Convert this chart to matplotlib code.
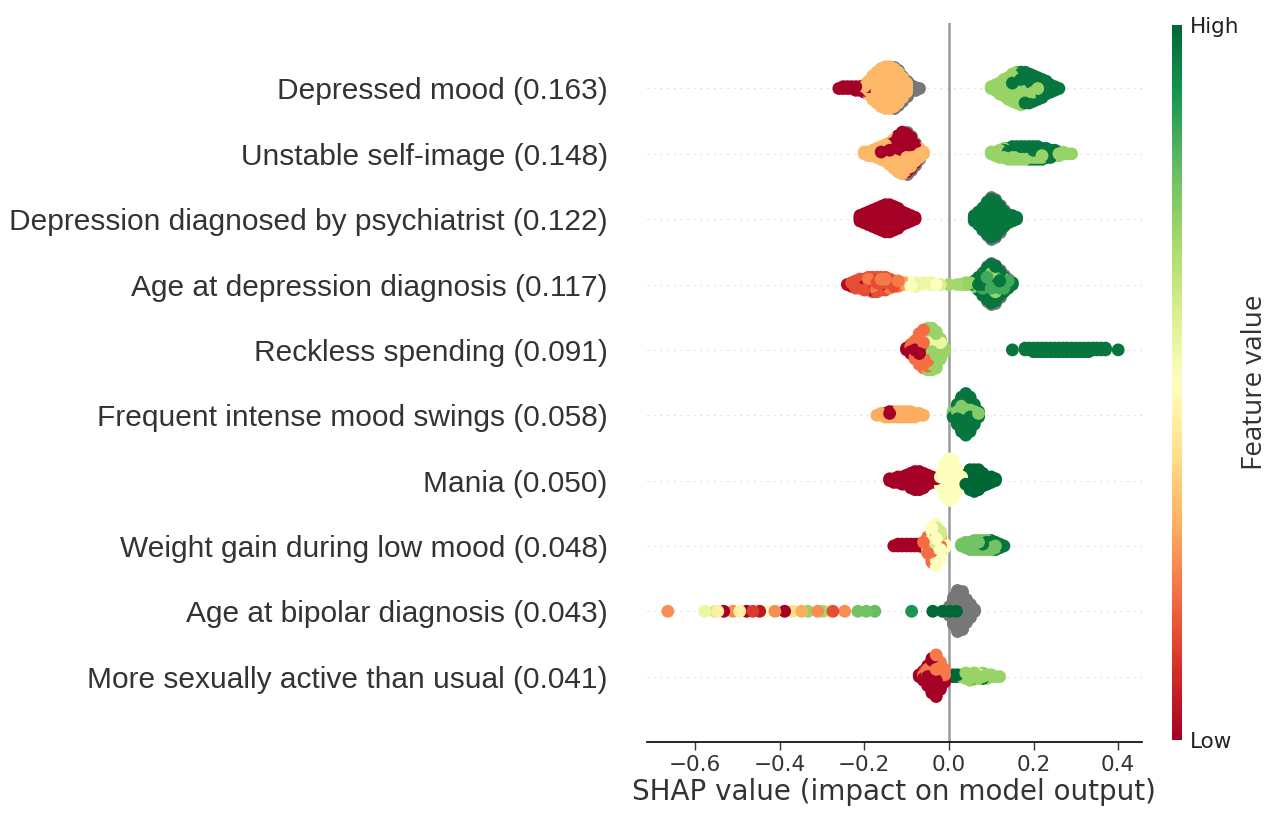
import numpy as np
import matplotlib
matplotlib.use("Agg")
import matplotlib.pyplot as plt
from matplotlib import cm
from matplotlib.colors import Normalize

# feature names, top to bottom
features = [
    "Depressed mood (0.163)",
    "Unstable self-image (0.148)",
    "Depression diagnosed by psychiatrist (0.122)",
    "Age at depression diagnosis (0.117)",
    "Reckless spending (0.091)",
    "Frequent intense mood swings (0.058)",
    "Mania (0.050)",
    "Weight gain during low mood (0.048)",
    "Age at bipolar diagnosis (0.043)",
    "More sexually active than usual (0.041)",
]

# (shap value, feature value 0..1 or nan = missing, number of samples)
N = np.nan
depressed_mood = [
    (-0.26, 0.0, 1), (-0.25, 0.0, 2), (-0.24, 0.0, 2), (-0.23, 0.0, 2), (-0.22, 0.0, 3),
    (-0.21, 0.0, 3), (-0.20, 0.0, 3), (-0.20, 0.32, 2),
    (-0.19, 0.32, 6), (-0.19, 0.0, 2), (-0.18, 0.32, 12), (-0.18, 0.0, 2),
    (-0.17, 0.32, 18), (-0.16, 0.32, 22), (-0.15, 0.32, 24), (-0.14, 0.32, 24),
    (-0.13, 0.32, 22), (-0.13, N, 2), (-0.12, 0.32, 18), (-0.12, N, 2),
    (-0.11, 0.32, 12), (-0.11, N, 3), (-0.10, 0.32, 6), (-0.10, N, 3),
    (-0.09, N, 4), (-0.08, N, 3), (-0.07, N, 1),
    (0.10, 0.72, 2), (0.11, 0.72, 4), (0.12, 0.72, 7), (0.13, 0.72, 9), (0.13, 0.97, 1),
    (0.14, 0.72, 11), (0.14, 0.97, 2), (0.15, 0.72, 12), (0.15, 0.97, 4),
    (0.16, 0.72, 12), (0.16, 0.97, 6), (0.17, 0.72, 10), (0.17, 0.97, 9),
    (0.18, 0.72, 8), (0.18, 0.97, 10), (0.19, 0.72, 6), (0.19, 0.97, 11),
    (0.20, 0.72, 4), (0.20, 0.97, 11), (0.21, 0.72, 3), (0.21, 0.97, 10),
    (0.22, 0.72, 2), (0.22, 0.97, 9), (0.23, 0.72, 1), (0.23, 0.97, 7),
    (0.24, 0.97, 5), (0.25, 0.97, 3), (0.26, 0.97, 1),
]
unstable_self_image = [
    (-0.20, 0.32, 2), (-0.19, 0.32, 3), (-0.18, 0.32, 4), (-0.17, 0.32, 5), (-0.17, 0.0, 1),
    (-0.16, 0.32, 6), (-0.16, 0.0, 2), (-0.15, 0.32, 7), (-0.15, 0.0, 3),
    (-0.14, 0.32, 8), (-0.14, 0.0, 5), (-0.13, 0.32, 10), (-0.13, 0.0, 7),
    (-0.12, 0.32, 11), (-0.12, 0.0, 10), (-0.11, 0.32, 12), (-0.11, 0.0, 12),
    (-0.10, 0.32, 10), (-0.10, 0.0, 12), (-0.10, N, 2), (-0.09, 0.32, 8), (-0.09, 0.0, 10),
    (-0.09, N, 2), (-0.08, 0.32, 5), (-0.08, 0.0, 6), (-0.08, N, 2),
    (-0.07, 0.32, 4), (-0.07, 0.0, 2), (-0.07, N, 1), (-0.06, 0.32, 2),
    (0.10, 0.72, 2), (0.11, 0.72, 3), (0.12, 0.72, 4), (0.12, 0.97, 1),
    (0.13, 0.72, 4), (0.13, 0.97, 2), (0.14, 0.72, 4), (0.14, 0.97, 3),
    (0.15, 0.72, 4), (0.15, 0.97, 4), (0.16, 0.72, 4), (0.16, 0.97, 4),
    (0.17, 0.72, 4), (0.17, 0.97, 4), (0.18, 0.72, 4), (0.18, 0.97, 4),
    (0.19, 0.72, 3), (0.19, 0.97, 5), (0.20, 0.72, 3), (0.20, 0.97, 5),
    (0.21, 0.72, 3), (0.21, 0.97, 5), (0.22, 0.72, 3), (0.22, 0.97, 4),
    (0.23, 0.72, 2), (0.23, 0.97, 4), (0.24, 0.72, 2), (0.24, 0.97, 3),
    (0.25, 0.72, 2), (0.25, 0.97, 2), (0.26, 0.72, 2), (0.26, 0.97, 1),
    (0.27, 0.72, 2), (0.28, 0.72, 1), (0.29, 0.72, 1),
]
diagnosed_by_psychiatrist = [
    (-0.21, 0.0, 4), (-0.20, 0.0, 6), (-0.19, 0.0, 8), (-0.18, 0.0, 10), (-0.17, 0.0, 12),
    (-0.16, 0.0, 14), (-0.15, 0.0, 16), (-0.14, 0.0, 16), (-0.13, 0.0, 14), (-0.12, 0.0, 12),
    (-0.11, 0.0, 8), (-0.10, 0.0, 6), (-0.09, 0.0, 4), (-0.08, 0.0, 2),
    (0.06, 0.97, 4), (0.07, 0.97, 8), (0.08, 0.97, 13), (0.08, N, 1), (0.09, 0.97, 18),
    (0.09, N, 2), (0.10, 0.97, 22), (0.10, N, 2), (0.11, 0.97, 20), (0.11, N, 2),
    (0.12, 0.97, 14), (0.12, N, 2), (0.13, 0.97, 9), (0.13, N, 1), (0.14, 0.97, 5),
    (0.14, N, 1), (0.15, 0.97, 4), (0.16, 0.97, 2),
]
age_depression_dx = [
    (-0.24, 0.03, 1), (-0.23, 0.03, 2), (-0.23, 0.15, 1), (-0.22, 0.03, 2), (-0.22, 0.15, 3),
    (-0.21, 0.03, 2), (-0.21, 0.15, 4), (-0.20, 0.03, 2), (-0.20, 0.15, 5),
    (-0.19, 0.03, 2), (-0.19, 0.15, 4), (-0.19, 0.22, 2), (-0.18, 0.03, 3), (-0.18, 0.15, 4),
    (-0.18, 0.22, 2), (-0.17, 0.03, 3), (-0.17, 0.15, 4), (-0.17, 0.22, 2),
    (-0.16, 0.03, 2), (-0.16, 0.15, 4), (-0.16, 0.22, 2), (-0.15, 0.03, 2), (-0.15, 0.15, 4),
    (-0.15, 0.22, 2), (-0.14, 0.03, 1), (-0.14, 0.15, 3), (-0.14, 0.22, 2),
    (-0.13, 0.15, 3), (-0.13, 0.28, 1), (-0.12, 0.22, 3), (-0.12, 0.28, 1),
    (-0.11, 0.28, 2), (-0.10, 0.30, 2),
    (-0.09, 0.5, 3), (-0.08, 0.55, 3), (-0.07, 0.5, 3), (-0.06, 0.55, 2), (-0.05, 0.5, 2),
    (-0.04, 0.55, 2), (-0.03, 0.5, 1), (-0.02, 0.6, 1),
    (0.0, 0.7, 1), (0.02, 0.7, 1), (0.03, 0.7, 1), (0.04, 0.72, 2), (0.05, 0.72, 2),
    (0.06, 0.97, 2), (0.06, 0.85, 1), (0.06, 0.72, 1),
    (0.07, 0.97, 4), (0.07, 0.85, 2), (0.07, 0.72, 2),
    (0.08, 0.97, 7), (0.08, 0.85, 4), (0.08, 0.72, 2), (0.08, N, 1),
    (0.09, 0.97, 10), (0.09, 0.85, 5), (0.09, 0.72, 3), (0.09, N, 2),
    (0.10, 0.97, 12), (0.10, 0.85, 6), (0.10, 0.72, 4), (0.10, N, 2),
    (0.11, 0.97, 11), (0.11, 0.85, 5), (0.11, 0.72, 4), (0.11, N, 2),
    (0.12, 0.97, 8), (0.12, 0.85, 4), (0.12, 0.72, 2), (0.12, N, 2),
    (0.13, 0.97, 5), (0.13, 0.85, 2), (0.13, 0.72, 2), (0.13, N, 1),
    (0.14, 0.97, 3), (0.14, 0.85, 2), (0.14, N, 1), (0.15, 0.97, 2),
]
reckless_spending = [
    (-0.10, 0.0, 2), (-0.09, 0.0, 3), (-0.09, 0.2, 3), (-0.08, 0.0, 3), (-0.08, 0.2, 8),
    (-0.07, 0.0, 4), (-0.07, 0.2, 14), (-0.06, 0.0, 3), (-0.06, 0.2, 16), (-0.06, 0.72, 3),
    (-0.05, 0.2, 8), (-0.05, 0.72, 12), (-0.05, 0.55, 4),
    (-0.04, 0.72, 17), (-0.04, 0.55, 7), (-0.03, 0.72, 15), (-0.03, 0.55, 6),
    (-0.02, 0.72, 8), (-0.02, 0.55, 4), (-0.01, 0.72, 3),
    (0.15, 0.97, 1), (0.18, 0.97, 2), (0.19, 0.97, 2), (0.20, 0.97, 3), (0.21, 0.97, 3),
    (0.22, 0.97, 3), (0.23, 0.97, 3), (0.24, 0.97, 3), (0.25, 0.97, 3), (0.26, 0.97, 3),
    (0.27, 0.97, 3), (0.28, 0.97, 3), (0.29, 0.97, 3), (0.30, 0.97, 3), (0.31, 0.97, 3),
    (0.32, 0.97, 3), (0.33, 0.97, 3), (0.34, 0.97, 2), (0.35, 0.97, 2), (0.36, 0.97, 2),
    (0.37, 0.97, 2), (0.40, 0.97, 1),
]
mood_swings = [
    (-0.17, 0.3, 1), (-0.16, 0.3, 2), (-0.15, 0.3, 2), (-0.15, 0.0, 1), (-0.14, 0.3, 2),
    (-0.14, 0.0, 2), (-0.13, 0.3, 3), (-0.13, 0.0, 1), (-0.12, 0.3, 3), (-0.12, 0.0, 1),
    (-0.11, 0.3, 4), (-0.10, 0.3, 4), (-0.09, 0.3, 4), (-0.08, 0.3, 3), (-0.07, 0.3, 2),
    (-0.06, 0.3, 1),
    (0.01, 0.97, 2), (0.01, 0.75, 2), (0.02, 0.97, 9), (0.02, 0.75, 3),
    (0.03, 0.97, 15), (0.03, 0.75, 5), (0.04, 0.97, 18), (0.04, 0.75, 6),
    (0.05, 0.97, 15), (0.05, 0.75, 5), (0.06, 0.97, 9), (0.06, 0.75, 3),
    (0.07, 0.97, 3), (0.07, 0.75, 1),
]
mania = [
    (-0.14, 0.0, 2), (-0.13, 0.0, 3), (-0.12, 0.0, 4), (-0.11, 0.0, 5), (-0.10, 0.0, 6),
    (-0.09, 0.0, 9), (-0.08, 0.0, 11), (-0.07, 0.0, 11), (-0.06, 0.0, 9), (-0.05, 0.0, 6),
    (-0.04, 0.0, 4), (-0.03, 0.0, 3),
    (-0.02, 0.5, 8), (-0.01, 0.5, 18), (0.00, 0.5, 24), (0.01, 0.5, 22), (0.02, 0.5, 12),
    (0.03, 0.5, 4),
    (0.04, 1.0, 6), (0.05, 1.0, 12), (0.06, 1.0, 13), (0.07, 1.0, 12), (0.08, 1.0, 8),
    (0.09, 1.0, 5), (0.10, 1.0, 4), (0.11, 1.0, 2),
]
weight_gain = [
    (-0.13, 0.0, 1), (-0.12, 0.0, 2), (-0.11, 0.0, 2), (-0.10, 0.0, 2), (-0.09, 0.0, 2),
    (-0.08, 0.0, 2), (-0.07, 0.0, 2), (-0.06, 0.0, 1), (-0.06, 0.2, 3),
    (-0.05, 0.2, 6), (-0.05, 0.5, 3), (-0.05, 0.0, 1),
    (-0.04, 0.2, 8), (-0.04, 0.5, 8), (-0.04, 0.35, 4),
    (-0.03, 0.2, 6), (-0.03, 0.5, 10), (-0.03, 0.62, 8),
    (-0.02, 0.2, 4), (-0.02, 0.5, 6), (-0.02, 0.62, 6), (-0.01, 0.5, 3),
    (0.03, 0.78, 2), (0.04, 0.78, 4), (0.05, 0.78, 5), (0.06, 0.78, 6), (0.07, 0.78, 6),
    (0.08, 0.78, 5), (0.08, 0.97, 1), (0.09, 0.78, 4), (0.09, 0.97, 2),
    (0.10, 0.78, 3), (0.10, 0.97, 3), (0.11, 0.78, 2), (0.11, 0.97, 3),
    (0.12, 0.97, 3), (0.13, 0.97, 1),
]
age_bipolar_dx = [
    (-0.664, 0.25, 1), (-0.577, 0.55, 1), (-0.553, 0.62, 1), (-0.546, 0.45, 1),
    (-0.532, 0.0, 1), (-0.51, 0.25, 1), (-0.494, 0.45, 1), (-0.478, 0.0, 1),
    (-0.463, 0.12, 1), (-0.447, 0.05, 1), (-0.431, 0.5, 1), (-0.411, 0.25, 1),
    (-0.388, 0.0, 1), (-0.369, 0.4, 1), (-0.348, 0.3, 1), (-0.333, 0.72, 1),
    (-0.31, 0.25, 1), (-0.298, 0.7, 1), (-0.286, 0.45, 1), (-0.274, 0.15, 1),
    (-0.246, 0.25, 1), (-0.215, 0.78, 1), (-0.195, 0.78, 1), (-0.175, 0.8, 1),
    (-0.088, 0.9, 1),
    (0.00, N, 6), (0.01, N, 16), (0.02, N, 24), (0.03, N, 22), (0.04, N, 14),
    (0.05, N, 8), (0.06, N, 2),
    (-0.038, 1.0, 1), (-0.015, 1.0, 1), (0.002, 1.0, 1), (0.018, 1.0, 1),
]
sexually_active = [
    (-0.07, 0.0, 2), (-0.06, 0.0, 4), (-0.06, 0.22, 2), (-0.05, 0.0, 8), (-0.05, 0.22, 4),
    (-0.04, 0.0, 12), (-0.04, 0.22, 8), (-0.03, 0.0, 12), (-0.03, 0.22, 12),
    (-0.02, 0.0, 8), (-0.02, 0.22, 8), (-0.01, 0.0, 4), (-0.01, 0.22, 4),
    (0.00, 1.0, 1), (0.01, 1.0, 2), (0.02, 1.0, 2),
    (0.03, 0.72, 2), (0.04, 0.72, 3), (0.04, 0.52, 1), (0.05, 0.72, 3), (0.05, 0.52, 2),
    (0.06, 0.72, 2), (0.06, 0.52, 2), (0.06, 0.85, 1), (0.07, 0.72, 2), (0.07, 0.52, 2),
    (0.08, 0.72, 2), (0.08, 0.52, 1), (0.08, 1.0, 1), (0.09, 0.72, 3), (0.10, 0.72, 2),
    (0.11, 0.72, 1), (0.12, 0.72, 1),
]

rows = [depressed_mood, unstable_self_image, diagnosed_by_psychiatrist, age_depression_dx,
        reckless_spending, mood_swings, mania, weight_gain, age_bipolar_dx, sexually_active]

plt.rcParams['font.family'] = ['DejaVu Sans']
cmap = plt.get_cmap('RdYlGn')
norm = Normalize(0, 1)

fig = plt.figure(figsize=(12.73, 8.15), dpi=100)
ax = fig.add_axes([0.508, 0.0896, 0.389, 0.882])

n = len(rows)
row_height = 0.4
dot = 85
for i, row in enumerate(rows):
    pos = n - 1 - i
    xs = np.repeat([r[0] for r in row], [r[2] for r in row])
    fv = np.repeat([r[1] for r in row], [r[2] for r in row]).astype(float)
    copy = np.concatenate([np.arange(r[2]) for r in row]).astype(float)
    copy[np.isnan(fv)] += 1000  # missing values sit on the outside
    # beeswarm stacking, samples with equal shap value pile up
    order = np.lexsort((copy, xs))
    ys = np.zeros(len(xs))
    layer = 0
    last = None
    for k in order:
        if xs[k] != last:
            layer = 0
        ys[k] = np.ceil(layer / 2) * ((layer % 2) * 2 - 1)
        layer += 1
        last = xs[k]
    ys *= 0.9 * (row_height / np.max(ys + 1))

    ax.axhline(pos, color='#cccccc', lw=0.8, dashes=(1, 5), zorder=-1)
    nan = np.isnan(fv)
    ax.scatter(xs[nan], pos + ys[nan], color='#777777', s=dot, linewidth=0, zorder=3)
    # mix the drawing order so no colour always sits on top
    draw = np.argsort((np.arange(len(xs)) * 0.618034) % 1)
    draw = draw[~nan[draw]]
    ax.scatter(xs[draw], pos + ys[draw], c=fv[draw], cmap=cmap, norm=norm, s=dot,
               linewidth=0, zorder=3)

ax.axvline(0, color='#999999', lw=1.8, zorder=-1)
ax.set_xlim(-0.714, 0.456)
ax.set_ylim(-1, n)
ax.set_yticks(range(n))
ax.set_yticklabels(features[::-1], fontsize=21.5, family='Liberation Sans', color='#333333')
ax.tick_params(axis='y', length=0, pad=28)
ax.set_xticks([-0.6, -0.4, -0.2, 0.0, 0.2, 0.4])
ax.tick_params(axis='x', labelsize=15.5, length=6, width=1, colors='#333333')
ax.set_xlabel('SHAP value (impact on model output)', fontsize=20, color='#333333', labelpad=2)
for s in ['top', 'right', 'left']:
    ax.spines[s].set_visible(False)
ax.spines['bottom'].set_linewidth(1.2)

cax = fig.add_axes([0.9207, 0.092, 0.0078, 0.877])
cb = fig.colorbar(cm.ScalarMappable(norm=norm, cmap=cmap), cax=cax, ticks=[0, 1])
cb.set_ticklabels(['Low', 'High'])
cb.outline.set_visible(False)
cax.tick_params(length=0, labelsize=15.5, pad=6, colors='#222222')
cb.set_label('Feature value', fontsize=20, family='Open Sans', labelpad=1, color='#333333')

fig.savefig('out.png', dpi=100)
